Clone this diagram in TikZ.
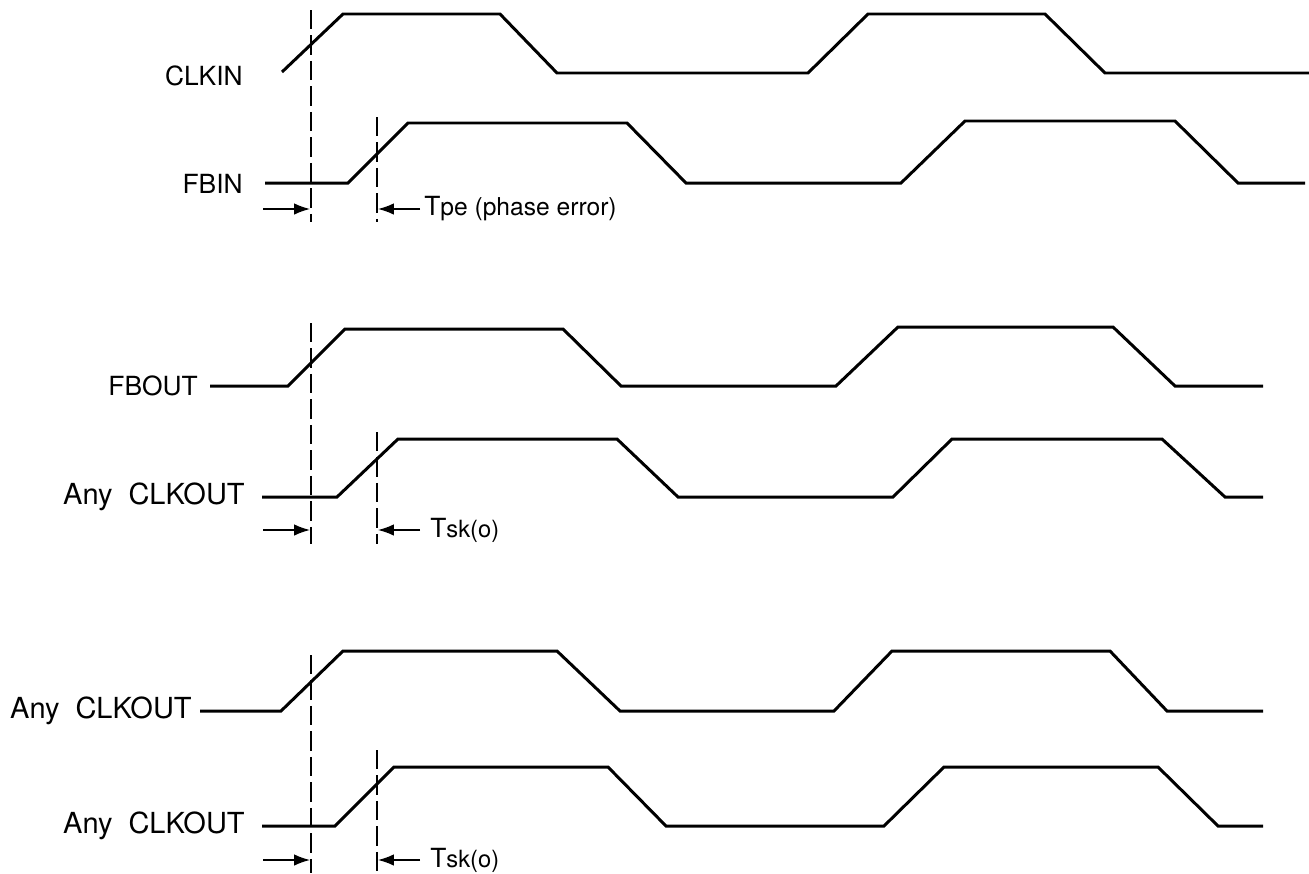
\documentclass[tikz,border=0pt]{standalone}
\usepackage{fontspec}
\setmainfont{TeX Gyre Heros}
\usetikzlibrary{arrows.meta}

\begin{document}
\begin{tikzpicture}[x=0.02cm, y=-0.02cm,
    wave/.style={line width=1.7pt, line join=miter},
    guide/.style={line width=0.8pt, dash pattern=on 11pt off 3.5pt},
    dim/.style={line width=0.8pt, -{Latex[length=9pt,width=6.5pt]}},
    lbl/.style={anchor=east, inner sep=0pt, font=\fontsize{15}{18}\selectfont},
    outlbl/.style={lbl, font=\fontsize{16.5}{19}\selectfont},
    tlbl/.style={anchor=west, inner sep=0pt, font=\fontsize{15}{18}\selectfont}]
    \useasboundingbox (0,0) rectangle (1309,873);

    % signal names
    \node[lbl] (clkin) at (243,76) {CLKIN};
    \node[lbl] (fbin) at (243,184) {FBIN};
    \node[lbl] (fbout) at (198,386) {FBOUT};
    \node[outlbl] (outa) at (245,497) {Any\hspace{0.55em}CLKOUT};
    \node[outlbl] (outb) at (192,711) {Any\hspace{0.55em}CLKOUT};
    \node[outlbl] (outc) at (245,826) {Any\hspace{0.55em}CLKOUT};

    % waveforms
    \draw[wave] (282,72) -- (343,14) -- (500,14) -- (557,73) -- (808,73)
        -- (868,14) -- (1045,14) -- (1105,73) -- (1309,73);
    \draw[wave] (265,183) -- (348,183) -- (408,123) -- (627,123) -- (686,183)
        -- (901,183) -- (965,121) -- (1175,121) -- (1238,183) -- (1305,183);
    \draw[wave] (210,386) -- (288,386) -- (345,329) -- (563,329) -- (621,386)
        -- (836,386) -- (898,327) -- (1113,327) -- (1175,386) -- (1263,386);
    \draw[wave] (262,497) -- (337,497) -- (398,439) -- (617,439) -- (678,497)
        -- (893,497) -- (952,439) -- (1162,439) -- (1225,497) -- (1263,497);
    \draw[wave] (200,711) -- (281,711) -- (343,651) -- (557,651) -- (620,711)
        -- (834,711) -- (892,651) -- (1110,651) -- (1167,711) -- (1263,711);
    \draw[wave] (262,826) -- (335,826) -- (394,767) -- (608,767) -- (666,826)
        -- (884,826) -- (944,767) -- (1158,767) -- (1218,826) -- (1263,826);

    % reference edges
    \draw[guide] (311,10) -- (311,222);
    \draw[guide] (377,117) -- (377,222);
    \draw[guide] (311,323) -- (311,544);
    \draw[guide] (377,432) -- (377,544);
    \draw[guide] (311,655) -- (311,873);
    \draw[guide] (377,750) -- (377,873);

    % skew markers
    \coordinate (pa1) at (263,209); \coordinate (pa2) at (310,209);
    \coordinate (pb1) at (420,209); \coordinate (pb2) at (378,209);
    \draw[dim] (pa1) -- (pa2);
    \draw[dim] (pb1) -- (pb2);
    \node[tlbl] (tpe) at (424,209) {T\fontsize{14}{16}\selectfont pe (phase error)};

    \coordinate (qa1) at (263,530); \coordinate (qa2) at (310,530);
    \coordinate (qb1) at (420,530); \coordinate (qb2) at (378,530);
    \draw[dim] (qa1) -- (qa2);
    \draw[dim] (qb1) -- (qb2);
    \node[tlbl] (tska) at (430,530) {T\fontsize{13.5}{15}\selectfont sk(o)};

    \coordinate (ra1) at (263,860); \coordinate (ra2) at (310,860);
    \coordinate (rb1) at (420,860); \coordinate (rb2) at (378,860);
    \draw[dim] (ra1) -- (ra2);
    \draw[dim] (rb1) -- (rb2);
    \node[tlbl] (tskb) at (430,860) {T\fontsize{13.5}{15}\selectfont sk(o)};
\end{tikzpicture}
\end{document}
